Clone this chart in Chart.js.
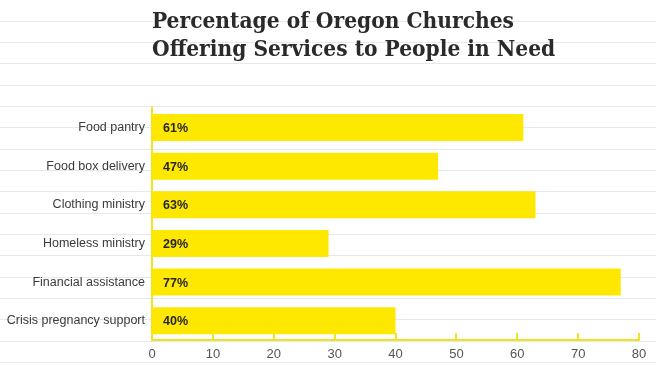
<!DOCTYPE html>
<html>
<head>
<meta charset="utf-8">
<script src="https://cdn.jsdelivr.net/npm/chart.js@4/dist/chart.umd.min.js"></script>
<style>
  html, body { margin: 0; padding: 0; background: #fff; }
  #wrap { width: 656px; height: 366px; }
</style>
</head>
<body>
<div id="wrap"><canvas id="churchChart" width="656" height="366"></canvas></div>
<script>
// data
var categories = ["Food pantry", "Food box delivery", "Clothing ministry", "Homeless ministry", "Financial assistance", "Crisis pregnancy support"];
var percentValues = [61, 47, 63, 29, 77, 40];
var xTicks = [0, 10, 20, 30, 40, 50, 60, 70, 80];

var yellow = "#ffe800";
var axisYellow = "#f3e31c";

// notebook paper lines behind everything
var paperLines = {
  id: "paperLines",
  beforeDraw: function (chart) {
    var ctx = chart.ctx;
    ctx.save();
    ctx.fillStyle = "#ffffff";
    ctx.fillRect(0, 0, chart.width, chart.height);
    ctx.strokeStyle = "#e3e9ef";
    ctx.lineWidth = 1;
    for (var y = 20.7; y < chart.height; y += 21.33) {
      ctx.beginPath();
      ctx.moveTo(0, Math.round(y) + 0.5);
      ctx.lineTo(chart.width, Math.round(y) + 0.5);
      ctx.stroke();
    }
    ctx.restore();
  }
};

// small ticks pointing up from the x axis, and the % labels in the bars
var extras = {
  id: "extras",
  afterDatasetsDraw: function (chart) {
    var ctx = chart.ctx;
    var xs = chart.scales.x;
    var bottom = chart.chartArea.bottom;
    ctx.save();
    ctx.strokeStyle = axisYellow;
    ctx.lineWidth = 2;
    xTicks.forEach(function (t) {
      if (t === 0) return;
      var px = Math.round(xs.getPixelForValue(t));
      ctx.beginPath();
      ctx.moveTo(px, bottom);
      ctx.lineTo(px, bottom - 7);
      ctx.stroke();
    });
    ctx.fillStyle = "#262626";
    ctx.font = "bold 12.5px 'Liberation Sans', Arial, sans-serif";
    ctx.textBaseline = "middle";
    ctx.textAlign = "left";
    chart.getDatasetMeta(0).data.forEach(function (bar, i) {
      ctx.fillText(percentValues[i] + "%", bar.base + 11, bar.y + 1);
    });
    ctx.restore();
  }
};

new Chart("churchChart", {
  type: "bar",
  data: {
    labels: categories,
    datasets: [{
      data: percentValues,
      backgroundColor: yellow,
      borderWidth: 0,
      barPercentage: 0.7,
      categoryPercentage: 1.0
    }]
  },
  plugins: [paperLines, extras],
  options: {
    indexAxis: "y",
    responsive: false,
    animation: false,
    layout: { padding: { left: 0, right: 17, top: 0, bottom: 0 } },
    plugins: {
      legend: { display: false },
      tooltip: { enabled: false },
      title: {
        display: true,
        fullSize: false,
        align: "start",
        text: ["Percentage of Oregon Churches", "Offering Services to People in Need"],
        color: "#2a2a2a",
        font: { family: "'DejaVu Serif Condensed', 'DejaVu Serif', serif", size: 22.5, weight: "bold", lineHeight: 1.25 },
        padding: { top: 8, bottom: 44 }
      }
    },
    scales: {
      x: {
        min: 0,
        max: 80,
        afterBuildTicks: function (scale) {
          scale.ticks = xTicks.map(function (v) { return { value: v }; });
        },
        afterFit: function (scale) { scale.height = 26; },
        grid: { display: false, drawTicks: false },
        border: { display: true, color: axisYellow, width: 2 },
        ticks: {
          color: "#555555",
          padding: 7,
          font: { family: "'Liberation Sans', Arial, sans-serif", size: 13 }
        }
      },
      y: {
        afterFit: function (scale) { scale.width = 152; },
        grid: { display: false, drawTicks: false },
        border: { display: true, color: axisYellow, width: 2 },
        ticks: {
          color: "#3a3a3a",
          padding: 7,
          font: { family: "'Liberation Sans', Arial, sans-serif", size: 12.5 }
        }
      }
    }
  }
});
</script>
</body>
</html>
